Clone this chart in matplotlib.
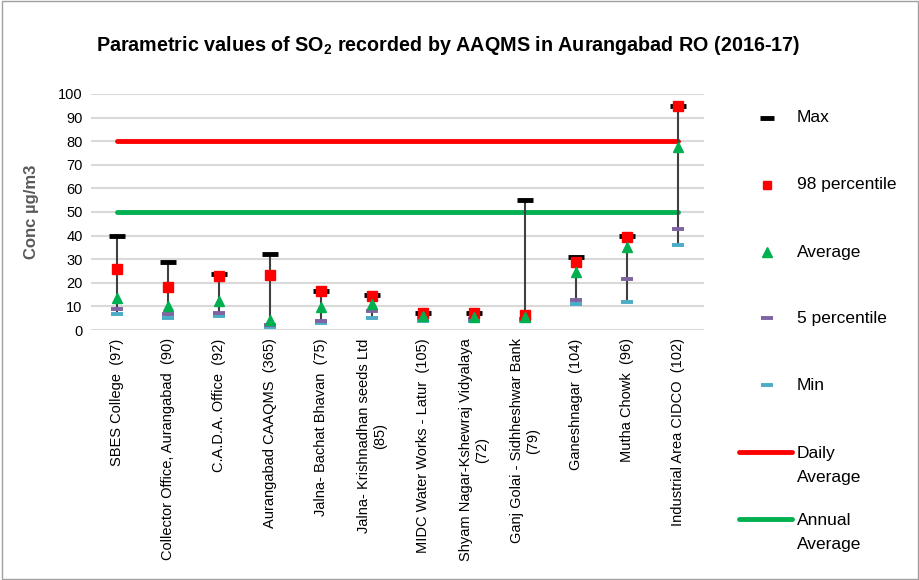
import numpy as np
import matplotlib
matplotlib.use("Agg")
import matplotlib.pyplot as plt
from matplotlib.lines import Line2D
from matplotlib.patches import Rectangle

plt.rcParams['font.family'] = ['Liberation Sans', 'DejaVu Sans']
plt.rcParams['mathtext.fontset'] = 'custom'
plt.rcParams['mathtext.rm'] = 'Liberation Sans'
plt.rcParams['mathtext.bf'] = 'Liberation Sans:bold'

stations = ["SBES College  (97)", "Collector Office, Aurangabad  (90)", "C.A.D.A. Office  (92)",
            "Aurangabad CAAQMS  (365)", "Jalna- Bachat Bhavan  (75)",
            "Jalna- Krishnadhan seeds Ltd\n(85)", "MIDC Water Works - Latur  (105)",
            "Shyam Nagar-Kshewraj Vidyalaya\n(72)", "Ganj Golai - Sidhheshwar Bank\n(79)",
            "Ganeshnagar  (104)", "Mutha Chowk  (96)", "Industrial Area CIDCO  (102)"]
max_v = [40, 29, 23.7, 32.2, 16.7, 14.7, 7.1, 7.1, 55, 31, 39.8, 95]
p98 = [25.7, 18.1, 22.9, 23.3, 16.4, 14.4, 7, 7, 6.4, 28.8, 39.5, 94.8]
avg = [13.4, 10.2, 12.4, 4.2, 9.9, 11, 5.9, 5.7, 5.7, 24.7, 35.3, 77.4]
p5 = [8.8, 6.8, 7.3, 2.1, 3.9, 8.2, 5, 4.8, 4.5, 12.9, 21.6, 42.8]
min_v = [6.8, 4.9, 6.1, 1.1, 3.1, 4.9, 4.0, 4.0, 4.0, 10.9, 12, 36]
daily_std = 80
annual_std = 50

fig = plt.figure(figsize=(9.2, 5.8), dpi=100)
ax = fig.add_axes([0.099, 0.431, 0.666, 0.407])
x = np.arange(len(stations))

ax.vlines(x, min_v, max_v, color='#404040', lw=1.5, zorder=2)
ax.plot(x, [daily_std] * len(x), color='#FF0000', lw=3.5, solid_capstyle='round', zorder=1)
ax.plot(x, [annual_std] * len(x), color='#00B050', lw=3.5, solid_capstyle='round', zorder=1)
ax.plot(x, max_v, ls='none', marker='_', ms=12, mew=3.5, color='black', zorder=3)
ax.plot(x, min_v, ls='none', marker='_', ms=8, mew=2.8, color='#4BACC6', zorder=3)
ax.plot(x, p5, ls='none', marker='_', ms=8, mew=2.8, color='#8064A2', zorder=3)
ax.plot(x, p98, ls='none', marker='s', ms=7.2, color='#FF0000', zorder=4)
ax.plot(x, avg, ls='none', marker='^', ms=7.5, color='#00B050', zorder=5)

ax.set_xlim(-0.5, len(x) - 0.5)
ax.set_ylim(0, 100)
ax.set_yticks(np.arange(0, 101, 10))
ax.grid(axis='y', color='#D9D9D9', lw=1.5)
ax.set_axisbelow(True)
for s in ax.spines.values():
    s.set_visible(False)
ax.tick_params(length=0, labelsize=10.5, pad=6)
ax.set_xticks(x)
ax.set_xticklabels(stations, rotation=90, va='top', ha='center', fontsize=10.5)
ax.set_ylabel("Conc µg/m3", fontsize=12, fontweight='bold', color='#595959', labelpad=14)

fig.text(0.487, 0.922, r"Parametric values of SO$_{\mathbf{2}}$ recorded by AAQMS in Aurangabad RO (2016-17)",
         ha='center', va='center', fontsize=14.2, fontweight='bold')

# legend drawn by hand on the right
W, H = 920, 580
def fx(px):
    return px / W
def fy(py):
    return 1 - py / H

leg = [('Max', dict(marker='_', ms=10, mew=3.5, color='black'), 118),
       ('98 percentile', dict(marker='s', ms=6, color='#FF0000'), 185),
       ('Average', dict(marker='^', ms=6.5, color='#00B050'), 252),
       ('5 percentile', dict(marker='_', ms=8, mew=2.8, color='#8064A2'), 318),
       ('Min', dict(marker='_', ms=8, mew=2.8, color='#4BACC6'), 385)]
for label, kw, py in leg:
    fig.add_artist(Line2D([fx(767)], [fy(py)], ls='none', **kw))
    fig.text(fx(797), fy(py), label, fontsize=12.5, va='center')

for label, col, py in [('Daily\nAverage', '#FF0000', 452), ('Annual\nAverage', '#00B050', 519)]:
    fig.add_artist(Line2D([fx(739), fx(792)], [fy(py), fy(py)], color=col, lw=3.5,
                          solid_capstyle='round'))
    fig.text(fx(797), fy(py - 6), label, fontsize=12.5, va='top', linespacing=1.75)

fig.add_artist(Rectangle((0.002, 0.002), 0.996, 0.996, transform=fig.transFigure,
                         fill=False, ec='#A0A0A0', lw=1))

fig.savefig('out.png', dpi=100)
